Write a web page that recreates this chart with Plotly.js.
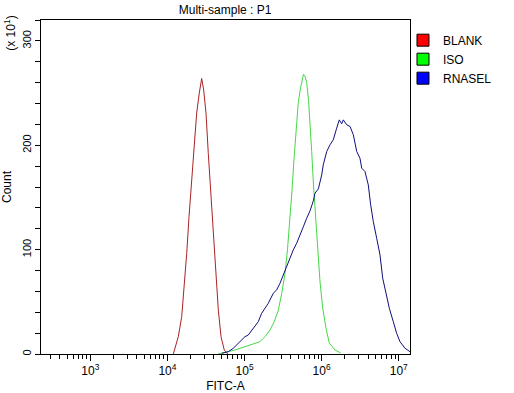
<!DOCTYPE html>
<html>
<head>
<meta charset="utf-8">
<script src="https://cdn.plot.ly/plotly-3.0.1.min.js"></script>
<style>html,body{margin:0;padding:0;background:#fff;}#chart{width:514px;height:393px;}</style>
</head>
<body>
<div id="chart"></div>
<script>
// Sample names
const sampleNames = ['BLANK', 'ISO', 'RNASEL'];

// BLANK histogram: log10(FITC-A) and count (x10^1)
const blankLogFITC = [4.076, 4.141, 4.185, 4.219, 4.250, 4.280, 4.315, 4.348, 4.379, 4.413, 4.444, 4.470, 4.500, 4.530, 4.561, 4.595, 4.626, 4.660, 4.695, 4.737, 4.782];
const blankCount   = [0, 16.6, 35.8, 64.5, 96.5, 131.6, 170, 205, 230.8, 250, 264, 253, 231, 192, 154, 112.5, 74, 42, 16.6, 3.8, 0];

// ISO histogram
const isoLogFITC = [4.656, 4.747, 4.876, 5.006, 5.110, 5.200, 5.265, 5.330, 5.386, 5.438, 5.482, 5.525, 5.557, 5.590, 5.616, 5.641, 5.667, 5.697, 5.726, 5.752, 5.765, 5.784, 5.806, 5.830, 5.849, 5.871, 5.894, 5.920, 5.946, 5.979, 6.014, 6.056, 6.099, 6.173, 6.247];
const isoCount   = [0, 1.6, 3.8, 7.0, 9.6, 11.8, 16.6, 23, 31, 42, 58, 77.5, 100, 128, 157, 186, 215, 241, 255, 265, 268, 266, 260, 243, 224, 194, 162, 133, 100, 69, 44, 25, 10.5, 3.8, 1];

// RNASEL histogram
const rnaselLogFITC = [4.704, 4.789, 4.854, 4.919, 5.006, 5.049, 5.114, 5.178, 5.222, 5.265, 5.308, 5.373, 5.417, 5.460, 5.503, 5.547, 5.590, 5.632, 5.676, 5.719, 5.762, 5.806, 5.849, 5.892, 5.914, 5.957, 6.001, 6.021, 6.066, 6.108, 6.151, 6.195, 6.229, 6.260, 6.281, 6.325, 6.368, 6.411, 6.433, 6.455, 6.497, 6.520, 6.562, 6.605, 6.636, 6.670, 6.714, 6.757, 6.792, 6.835, 6.878, 6.929, 6.973, 7.016, 7.081, 7.146];
const rnaselCount   = [0.7, 2.2, 5.5, 10.3, 16.6, 18.2, 24.6, 31, 39, 43.8, 48.6, 58.2, 61.4, 67.8, 75.7, 84.4, 91.8, 99.7, 106.1, 113.1, 121.8, 130.1, 137.1, 146.7, 154.1, 158.2, 171.6, 181.2, 194, 200.4, 205.2, 216.4, 224.3, 220.5, 224.3, 219.6, 218, 210, 200.4, 194, 187.6, 178, 174.8, 162, 142.9, 126.8, 110.9, 94.9, 72.6, 56.6, 43.8, 31, 19.8, 11.8, 5.5, 2.2];

// Axis ticks
const xTickDecades = [3, 4, 5, 6, 7];
const xTickText = ['10<sup>3</sup>', '10<sup>4</sup>', '10<sup>5</sup>', '10<sup>6</sup>', '10<sup>7</sup>'];
const xMinorDecades = [2, 3, 4, 5, 6, 7];
const minorMultipliers = [2, 3, 4, 5, 6, 7, 8, 9];

const lineColors = ['rgb(170,35,35)', 'rgb(70,215,70)', 'rgb(15,15,125)'];
const swatchColors = ['#ff0000', '#00ff00', '#0000ff'];

const toLin = a => a.map(v => Math.pow(10, v));
const series = [[blankLogFITC, blankCount], [isoLogFITC, isoCount], [rnaselLogFITC, rnaselCount]];

const traces = [];
series.forEach((s, i) => {
  traces.push({
    type: 'scatter', mode: 'lines', x: toLin(s[0]), y: s[1],
    line: {color: lineColors[i], width: 1}, showlegend: false, hoverinfo: 'skip'
  });
});
sampleNames.forEach((n, i) => {
  traces.push({
    type: 'scatter', mode: 'markers', x: [null], y: [null], name: n,
    marker: {symbol: 'square', size: 12, color: swatchColors[i], line: {color: '#000', width: 1}}
  });
});

const minorVals = [];
xMinorDecades.forEach(d => minorMultipliers.forEach(m => minorVals.push(m * Math.pow(10, d))));

const font = {family: 'Liberation Sans, Arial, sans-serif', size: 12, color: '#000'};

const layout = {
  width: 514, height: 393,
  margin: {l: 41, r: 104, t: 20, b: 39, pad: 0},
  paper_bgcolor: '#fff', plot_bgcolor: '#fff',
  font: font,
  title: {text: 'Multi-sample : P1', font: {family: font.family, size: 12, color: '#000'}, x: 0.438, xanchor: 'center', y: 0.975, yanchor: 'middle'},
  xaxis: {
    type: 'log', range: [2.36, 7.146],
    tickmode: 'array', tickvals: xTickDecades.map(d => Math.pow(10, d)), ticktext: xTickText,
    ticks: 'outside', ticklen: 6, tickwidth: 1, tickcolor: '#000',
    minor: {tickmode: 'array', tickvals: minorVals, ticks: 'outside', ticklen: 4, tickwidth: 1, tickcolor: '#000', showgrid: false},
    showline: true, linecolor: '#000', linewidth: 1, mirror: true,
    showgrid: false, zeroline: false,
    tickfont: {family: font.family, size: 12, color: '#000'},
    title: {text: 'FITC-A', font: {family: font.family, size: 12, color: '#000'}, standoff: 4}
  },
  yaxis: {
    range: [0, 320], dtick: 100, tick0: 0,
    ticks: 'outside', ticklen: 5, tickwidth: 1, tickcolor: '#000',
    minor: {dtick: 20, ticks: 'outside', ticklen: 5, tickwidth: 1, tickcolor: '#000', showgrid: false},
    tickangle: -90,
    showline: true, linecolor: '#000', linewidth: 1, mirror: true,
    showgrid: false, zeroline: false,
    tickfont: {family: font.family, size: 11, color: '#000'},
    title: {text: 'Count', font: {family: font.family, size: 12, color: '#000'}, standoff: 6}
  },
  legend: {
    x: 0.981, xanchor: 'left', y: 0.983, yanchor: 'top',
    font: {family: font.family, size: 12, color: '#000'},
    bgcolor: 'rgba(0,0,0,0)', borderwidth: 0, itemsizing: 'trace', tracegroupgap: 0
  },
  annotations: [{
    text: '(x 10<sup>1</sup>)', xref: 'paper', yref: 'paper', x: -0.083, y: 0.96,
    xanchor: 'center', yanchor: 'middle', textangle: -90, showarrow: false,
    font: {family: font.family, size: 12, color: '#000'}
  }],
  showlegend: true
};

Plotly.newPlot('chart', traces, layout, {displayModeBar: false, staticPlot: true});
</script>
</body>
</html>
